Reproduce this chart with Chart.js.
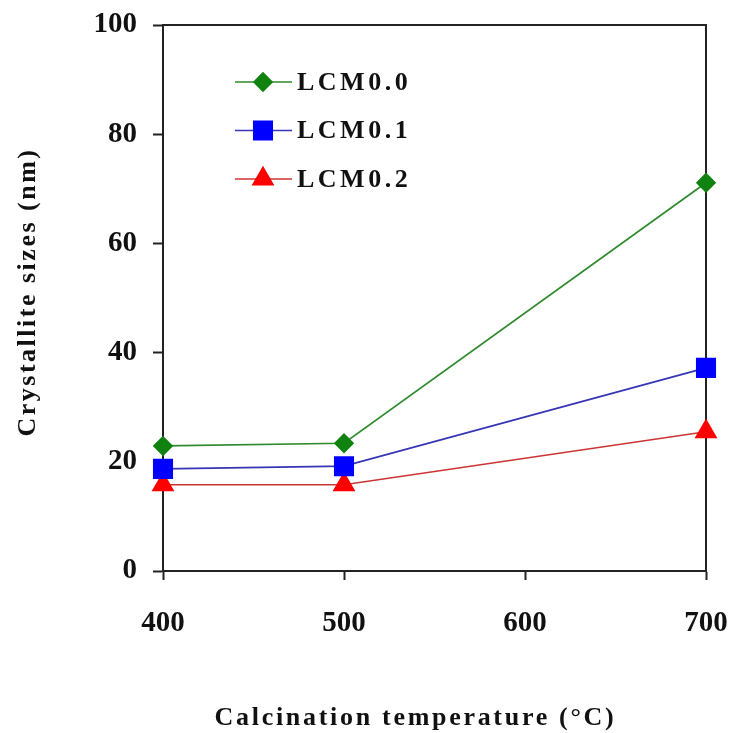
<!DOCTYPE html>
<html>
<head>
<meta charset="utf-8">
<script src="https://cdn.jsdelivr.net/npm/chart.js@4"></script>
<style>
  html, body { margin: 0; padding: 0; background: #fff; }
  #wrap { width: 730px; height: 733px; }
</style>
</head>
<body>
<div id="wrap"><canvas id="chart" width="730" height="733"></canvas></div>
<script>
// Crystallite size vs calcination temperature

const temperatures = [400, 500, 700];
const lcm00 = [22.9, 23.4, 71.1];
const lcm01 = [18.7, 19.2, 37.2];
const lcm02 = [15.8, 15.8, 25.5];
const seriesNames = ['LCM0.0', 'LCM0.1', 'LCM0.2'];
const xTicks = [400, 500, 600, 700];
const yTicks = [0, 20, 40, 60, 80, 100];
const xTitle = 'Calcination temperature (°C)';
const yTitle = 'Crystallite sizes (nm)';

const SERIF = '"Liberation Serif", "Times New Roman", serif';
const AXIS = '#222';

const toPoints = (vals) => temperatures.map((t, i) => ({ x: t, y: vals[i] }));

// box around the plot area (top and right sides too)
const framePlugin = {
  id: 'frame',
  beforeDatasetsDraw(chart) {
    const { ctx, chartArea: a } = chart;
    ctx.save();
    ctx.strokeStyle = AXIS;
    ctx.lineWidth = 2;
    ctx.strokeRect(a.left, a.top, a.right - a.left, a.bottom - a.top);
    ctx.restore();
  }
};

// legend sits inside the plot, upper left
const insideLegend = {
  id: 'insideLegend',
  afterDatasetsDraw(chart) {
    const { ctx, chartArea: a } = chart;
    chart.data.datasets.forEach((ds, i) => {
      const y = a.top + 57 + i * 48.5;
      const x0 = a.left + 72;
      ctx.save();
      ctx.strokeStyle = ds.borderColor;
      ctx.lineWidth = ds.borderWidth;
      ctx.beginPath();
      ctx.moveTo(x0, y);
      ctx.lineTo(x0 + 57, y);
      ctx.stroke();
      ctx.fillStyle = ds.pointBackgroundColor;
      ctx.strokeStyle = ds.pointBorderColor;
      Chart.helpers.drawPoint(ctx, {
        pointStyle: ds.pointStyle,
        radius: ds.pointRadius,
        rotation: 0,
        borderWidth: 1
      }, x0 + 28, y);
      ctx.fillStyle = '#111';
      ctx.font = 'bold 26px ' + SERIF;
      ctx.letterSpacing = '3.5px';
      ctx.textBaseline = 'middle';
      ctx.fillText(ds.label, x0 + 62, y + 1);
      ctx.restore();
    });
  }
};

// axis titles drawn by hand so they can be letter-spaced like the original
const axisTitles = {
  id: 'axisTitles',
  afterDraw(chart) {
    const { ctx, chartArea: a } = chart;
    ctx.save();
    ctx.fillStyle = '#111';
    ctx.textAlign = 'center';
    ctx.textBaseline = 'middle';
    ctx.font = 'bold 26px ' + SERIF;
    ctx.letterSpacing = '2.7px';
    ctx.fillText(xTitle, (a.left + a.right) / 2 - 19, 718);
    ctx.translate(28, (a.top + a.bottom) / 2 - 6);
    ctx.rotate(-Math.PI / 2);
    ctx.letterSpacing = '2.5px';
    ctx.fillText(yTitle, 0, 0);
    ctx.restore();
  }
};

const chart = new Chart(document.getElementById('chart'), {
  type: 'line',
  plugins: [framePlugin, insideLegend, axisTitles],
  data: {
    datasets: [
      {
        label: seriesNames[0],
        data: toPoints(lcm00),
        borderColor: '#2f8a2f',
        borderWidth: 1.7,
        pointStyle: 'rectRot',
        pointRadius: 9,
        pointBackgroundColor: '#0f820f',
        pointBorderColor: '#0f820f'
      },
      {
        label: seriesNames[1],
        data: toPoints(lcm01),
        borderColor: '#3535b5',
        borderWidth: 1.7,
        pointStyle: 'rect',
        pointRadius: 13,
        pointBackgroundColor: '#0000ff',
        pointBorderColor: '#0000ff'
      },
      {
        label: seriesNames[2],
        data: toPoints(lcm02),
        borderColor: '#cc3535',
        borderWidth: 1.7,
        pointStyle: 'triangle',
        pointRadius: 11.5,
        pointBackgroundColor: '#ff0000',
        pointBorderColor: '#ff0000'
      }
    ]
  },
  options: {
    responsive: false,
    animation: false,
    clip: false,
    layout: { padding: { left: 0, right: 24, top: 25, bottom: 0 } },
    plugins: {
      legend: { display: false },
      tooltip: { enabled: false }
    },
    elements: { line: { tension: 0 } },
    scales: {
      x: {
        type: 'linear',
        min: 400,
        max: 700,
        afterBuildTicks: (s) => { s.ticks = xTicks.map(v => ({ value: v })); },
        afterFit: (s) => { s.height = 162; s.paddingLeft = 0; s.paddingRight = 0; },
        grid: { drawOnChartArea: false, drawTicks: true, tickLength: 9, tickColor: AXIS, tickWidth: 2 },
        border: { display: true, color: AXIS, width: 2 },
        ticks: {
          color: '#111',
          padding: 26,
          maxRotation: 0,
          font: { family: SERIF, size: 29, weight: 'bold' }
        }
      },
      y: {
        min: 0,
        max: 100,
        afterBuildTicks: (s) => { s.ticks = yTicks.map(v => ({ value: v })); },
        afterFit: (s) => { s.width = 163; s.paddingTop = 0; s.paddingBottom = 0; },
        grid: { drawOnChartArea: false, drawTicks: true, tickLength: 10, tickColor: AXIS, tickWidth: 2 },
        border: { display: true, color: AXIS, width: 2 },
        ticks: {
          color: '#111',
          padding: 16,
          font: { family: SERIF, size: 29, weight: 'bold' }
        }
      }
    }
  }
});
</script>
</body>
</html>
